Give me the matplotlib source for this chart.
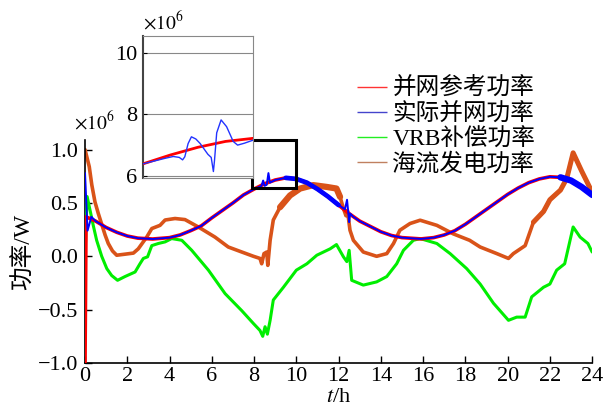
import matplotlib
matplotlib.use("Agg")
import matplotlib.pyplot as plt
import numpy as np
from matplotlib.patches import Rectangle

plt.rcParams['font.family'] = ['Liberation Serif', 'Noto Sans CJK SC']
plt.rcParams['mathtext.fontset'] = 'stix'
plt.rcParams['axes.unicode_minus'] = True
plt.rcParams['lines.solid_capstyle'] = 'round'
plt.rcParams['lines.solid_joinstyle'] = 'round'

# ---- data (power, x10^6 W) ----
ref_t = [0, 0.05, 0.5, 1, 1.5, 2, 2.5, 3.2, 4, 4.5, 5, 5.5, 6, 6.5, 7, 7.5, 8,
         8.5, 9, 9.5, 10, 10.5, 11, 11.5, 12, 12.5, 13, 13.5, 14, 14.5, 15,
         15.9, 16.5, 17, 17.5, 18, 18.5, 19, 19.5, 20, 20.5, 21, 21.5, 22,
         22.5, 23, 23.5, 24]
ref_p = [-1.0, 0.37, 0.33, 0.27, 0.225, 0.19, 0.17, 0.162, 0.175, 0.2, 0.24,
         0.285, 0.36, 0.43, 0.5, 0.575, 0.63, 0.68, 0.715, 0.735, 0.725, 0.69,
         0.63, 0.56, 0.48, 0.4, 0.33, 0.28, 0.23, 0.195, 0.175, 0.163, 0.175,
         0.2, 0.24, 0.3, 0.37, 0.44, 0.51, 0.58, 0.64, 0.69, 0.725, 0.745,
         0.74, 0.71, 0.65, 0.575]

grid_t = [0, 0.12, 0.3, 0.5, 1, 1.5, 2, 2.5, 3.2, 4, 4.5, 5, 5.5, 6, 6.5, 7,
          7.5, 8, 8.35, 8.43, 8.5, 8.6, 8.68, 8.75, 9, 9.5, 10, 10.5, 11,
          11.5, 12, 12.3, 12.4, 12.45, 12.5, 12.55, 12.7, 13, 13.5, 14, 14.5,
          15, 15.9, 16.5, 17, 17.5, 18, 18.5, 19, 19.5, 20, 20.5, 21, 21.5,
          22, 22.5, 23, 23.5, 24]
grid_p = [0.78, 0.24, 0.37, 0.33, 0.27, 0.225, 0.19, 0.17, 0.162, 0.175, 0.2,
          0.24, 0.285, 0.36, 0.43, 0.5, 0.575, 0.63, 0.66, 0.71, 0.66, 0.67,
          0.78, 0.69, 0.715, 0.735, 0.725, 0.69, 0.63, 0.56, 0.48, 0.44, 0.53,
          0.43, 0.32, 0.4, 0.37, 0.33, 0.28, 0.23, 0.195, 0.175, 0.163, 0.175,
          0.2, 0.24, 0.3, 0.37, 0.44, 0.51, 0.58, 0.64, 0.69, 0.725, 0.745,
          0.74, 0.71, 0.65, 0.575]

vrb_t = [0, 0.1, 0.24, 0.4, 0.55, 0.79, 1.03, 1.26, 1.54, 1.89, 2.37, 2.6,
         2.76, 2.96, 3.16, 3.47, 3.79, 4.1, 4.58, 5.05, 5.84, 6.63, 7.42,
         7.97, 8.28, 8.41, 8.52, 8.63, 8.76, 8.91, 9.39, 10.0, 10.5, 10.97,
         11.6, 11.9, 12.23, 12.39, 12.5, 12.62, 13.17, 13.8, 14.28, 14.75,
         15.07, 15.54, 15.86, 16.65, 17.28, 18.06, 18.7, 19.33, 20.04, 20.43,
         20.83, 21.14, 21.7, 22.0, 22.32, 22.7, 23.1, 23.43, 23.8, 24]
vrb_p = [0.0, 0.56, 0.43, 0.28, 0.15, 0.0, -0.115, -0.18, -0.225, -0.19,
         -0.147, -0.07, -0.02, -0.005, 0.10, 0.12, 0.135, 0.166, 0.15, 0.056,
         -0.13, -0.35, -0.51, -0.63, -0.695, -0.75, -0.66, -0.73, -0.60,
         -0.41, -0.29, -0.13, -0.07, 0.01, 0.07, 0.11, -0.005, -0.05, 0.056,
         -0.225, -0.27, -0.24, -0.19, -0.07, 0.056, 0.15, 0.166, 0.12, 0.025,
         -0.115, -0.26, -0.44, -0.60, -0.57, -0.57, -0.38, -0.29, -0.26,
         -0.13, -0.07, 0.275, 0.18, 0.12, 0.04]

tide_t = [0, 0.2, 0.32, 0.47, 0.63, 0.79, 0.95, 1.1, 1.3, 1.5, 1.9, 2.29,
          2.52, 2.92, 3.16, 3.55, 3.79, 4.26, 4.73, 5.36, 6.15, 6.78, 7.42,
          7.97, 8.28, 8.36, 8.47, 8.6, 8.65, 8.76, 8.91, 9.23, 9.7, 10.18,
          10.8, 11.44, 11.9, 12.07, 12.23, 12.35, 12.42, 12.54, 12.7, 13.17,
          13.8, 14.28, 14.6, 14.9, 15.38, 15.86, 16.65, 17.43, 18.2, 18.7,
          19.49, 20.04, 20.27, 20.83, 21.22, 21.7, 22.0, 22.5, 22.8, 23.1,
          23.5, 24]
tide_p = [1.0, 0.84, 0.67, 0.51, 0.40, 0.30, 0.2, 0.12, 0.05, 0.01, 0.02,
          0.03, 0.07, 0.18, 0.26, 0.29, 0.34, 0.354, 0.344, 0.275, 0.18,
          0.087, 0.04, 0.0, -0.02, -0.07, 0.025, 0.04, -0.085, 0.15, 0.34,
          0.46, 0.57, 0.635, 0.667, 0.65, 0.635, 0.557, 0.447, 0.38, 0.43,
          0.244, 0.15, 0.04, 0.0, 0.025, 0.12, 0.244, 0.307, 0.338, 0.29,
          0.21, 0.15, 0.087, 0.025, -0.02, 0.025, 0.10, 0.32, 0.42, 0.53,
          0.62, 0.73, 0.97, 0.8, 0.6]

# inset (zoomed view, x10^6)
ins_ref_t = [8.0, 8.5, 9.0, 9.5, 10.0]
ins_ref_p = [6.39, 6.68, 6.93, 7.12, 7.22]
ins_grid_t = [8.0, 8.2, 8.4, 8.55, 8.66, 8.72, 8.76, 8.82, 8.88, 8.96, 9.04,
              9.12, 9.18, 9.24, 9.28, 9.30, 9.34, 9.42, 9.52, 9.64, 9.72,
              9.84, 10.0]
ins_grid_p = [6.39, 6.48, 6.57, 6.63, 6.6, 6.52, 6.62, 7.05, 7.27, 7.2,
              7.05, 6.85, 6.7, 6.6, 6.14, 6.5, 7.4, 7.82, 7.6, 7.12, 7.0,
              7.06, 7.16]

labels = ['并网参考功率', '实际并网功率', 'VRB补偿功率', '海流发电功率']
colors = ['#ff0000', '#0000ff', '#00ee00', '#d95319']
legend_colors = ['#ff3333', '#4444cc', '#22ee22', '#c08060']
xticks = [0, 2, 4, 6, 8, 10, 12, 14, 16, 18, 20, 22, 24]
yticks = [-1.0, -0.5, 0.0, 0.5, 1.0]
ytick_labels = ['\u22121.0', '\u22120.5', '0.0', '0.5', '1.0']
zoom_box = (7.9, 0.64, 2.1, 0.45)   # x, y, width, height of zoom window

fig = plt.figure(figsize=(6.03, 4.15), dpi=100)
ax = fig.add_axes([0.141, 0.1253, 0.841, 0.5374])

tt = np.array(tide_t)
tp = np.array(tide_p)
ax.plot(tt, tp, color=colors[3], lw=2.6, zorder=2)
m = (tt >= 9.2) & (tt <= 12.1)
ax.plot(tt[m], tp[m], color=colors[3], lw=4.5, zorder=2)
m = tt >= 21.0
ax.plot(tt[m], tp[m], color=colors[3], lw=3.6, zorder=2)
ax.plot(vrb_t, vrb_p, color=colors[2], lw=2.2, zorder=3)
ax.plot(ref_t, ref_p, color=colors[0], lw=2.6, zorder=4)
gt = np.array(grid_t)
gp = np.array(grid_p)
ax.plot(gt, gp, color=colors[1], lw=1.4, zorder=5)
m = (gt >= 9.5) & (gt <= 12.0)
ax.plot(gt[m], gp[m], color=colors[1], lw=3.4, zorder=5)
m = gt >= 22.5
ax.plot(gt[m], gp[m], color=colors[1], lw=4.6, zorder=5)

ax.set_xlim(0, 24)
ax.set_ylim(-1.0, 1.09)
ax.set_xticks(xticks)
ax.set_yticks(yticks)
ax.set_yticklabels(ytick_labels)
ax.tick_params(direction='in', length=5, width=1, labelsize=16)
ax.tick_params(axis='y', pad=5)
ax.tick_params(axis='x', pad=3)
for s in ['top', 'right']:
    ax.spines[s].set_visible(False)
for s in ['left', 'bottom']:
    ax.spines[s].set_linewidth(1.2)
ax.set_xlabel('$t$/h', fontsize=16, labelpad=1)
ax.set_ylabel('功率/W', fontsize=17, labelpad=2)
ax.text(-0.022, 1.03, r'$\times10^{6}$', transform=ax.transAxes,
        fontsize=14, ha='left', va='bottom')

# zoom window and arrow
bx, by, bw, bh = zoom_box
ax.add_patch(Rectangle((bx, by), bw, bh, fill=False, ec='black', lw=2.2,
                       zorder=6, clip_on=False))
ax.annotate('', xy=(bx - 1.05, by + bh * 0.52), xytext=(bx, by + bh * 0.52),
            arrowprops=dict(arrowstyle='-|>', color='black', lw=1.4,
                            mutation_scale=16), annotation_clip=False)

# legend
handles = [plt.Line2D([], [], color=c, lw=1.0, solid_capstyle='butt')
           for c in legend_colors]
fig.legend(handles, labels, loc='upper left',
           bbox_to_anchor=(357 / 603, 1 - 78 / 415), frameon=False,
           fontsize=17, handlelength=1.25, handletextpad=0.25,
           labelspacing=0.12, borderpad=0, borderaxespad=0)

# inset
ins = fig.add_axes([143 / 603, 1 - 178 / 415, 110 / 603, 142 / 415])
ins.plot(ins_ref_t, ins_ref_p, color=colors[0], lw=2.0, zorder=3)
ins.plot(ins_grid_t, ins_grid_p, color='#2233ff', lw=1.0, zorder=4)
ins.set_xlim(8.0, 10.0)
ins.set_ylim(5.93, 10.55)
ins.set_yticks([6, 8, 10])
ins.set_xticks([])
ins.grid(axis='y', color='#888888', lw=0.8)
ins.tick_params(direction='in', length=3, labelsize=16, pad=4)
for s in ['top', 'right', 'bottom']:
    ins.spines[s].set_color('#888888')
    ins.spines[s].set_linewidth(0.8)
ins.spines['left'].set_color('#444444')
ins.spines['left'].set_linewidth(1.5)
ins.text(0.0, 1.02, r'$\times10^{6}$', transform=ins.transAxes,
         fontsize=14, ha='left', va='bottom')

fig.savefig('out.png', dpi=100)
